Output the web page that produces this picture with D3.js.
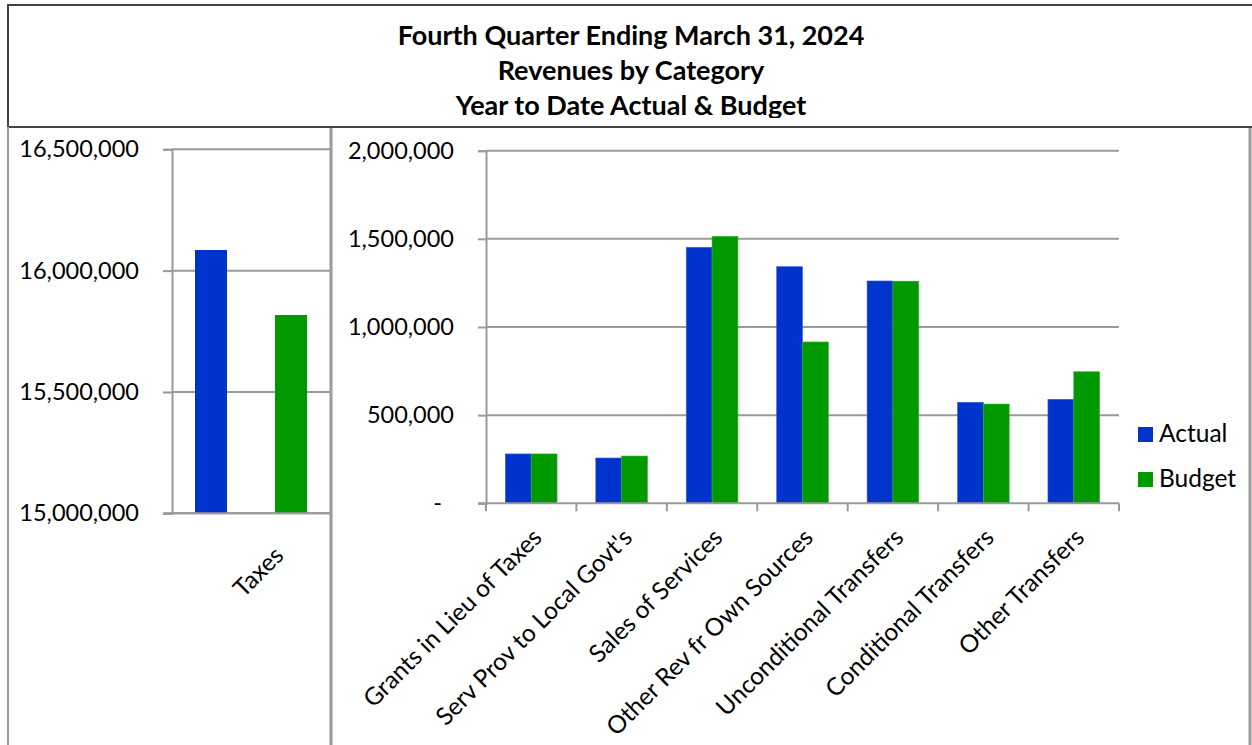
<!DOCTYPE html>
<html>
<head>
<meta charset="utf-8">
<script src="https://cdn.jsdelivr.net/npm/d3@7"></script>
<style>
  html, body { margin: 0; padding: 0; background: #fff; }
  svg { display: block; }
  text { font-family: Lato, "Open Sans", sans-serif; fill: #000; }
</style>
</head>
<body>
<svg id="chart" width="1252" height="745"></svg>
<script>
// Revenue categories shown in the right-hand panel
const categories = [
  "Grants in Lieu of Taxes",
  "Serv Prov to Local Govt's",
  "Sales of Services",
  "Other Rev fr Own Sources",
  "Unconditional Transfers",
  "Conditional Transfers",
  "Other Transfers"
];
const actual = [280000, 257000, 1452000, 1342000, 1261000, 573000, 590000];
const budget = [280000, 268000, 1514000, 915000, 1260000, 563000, 746000];

// Taxes get their own panel because of their scale
const taxCategory = ["Taxes"];
const taxActual = [16085000];
const taxBudget = [15817000];

const seriesNames = ["Actual", "Budget"];
const rightTicks = [0, 500000, 1000000, 1500000, 2000000];
const leftTicks = [15000000, 15500000, 16000000, 16500000];
const titleLines = [
  "Fourth Quarter Ending March 31, 2024",
  "Revenues by Category",
  "Year to Date Actual & Budget"
];

const colors = { Actual: "#0033CC", Budget: "#009900" };
const gridColor = "#9a9a9a";
const fmt = d3.format(",");
const tickFont = 23.5;
const catFont = 24.4;

const svg = d3.select("#chart");

// ---------- Title block ----------
svg.append("clipPath").attr("id", "titleClip")
  .append("rect").attr("x", 8).attr("y", 5).attr("width", 1244).attr("height", 113);
const titleG = svg.append("g").attr("clip-path", "url(#titleClip)");
titleG.selectAll("text").data(titleLines).join("text")
  .attr("x", 631)
  .attr("y", (d, i) => 45 + i * 35)
  .attr("text-anchor", "middle")
  .attr("font-weight", "bold")
  .attr("font-size", 27)
  .text(d => d);

// frame
svg.append("path")
  .attr("d", "M1256,5 H8 V127 H1256")
  .attr("fill", "none").attr("stroke", "#444").attr("stroke-width", 2);
svg.append("line").attr("x1", 8).attr("x2", 8).attr("y1", 127).attr("y2", 745)
  .attr("stroke", gridColor).attr("stroke-width", 2);
svg.append("line").attr("x1", 1250).attr("x2", 1250).attr("y1", 128).attr("y2", 745)
  .attr("stroke", gridColor).attr("stroke-width", 3);
svg.append("line").attr("x1", 331).attr("x2", 331).attr("y1", 128).attr("y2", 745)
  .attr("stroke", gridColor).attr("stroke-width", 3);

// ---------- Left panel (Taxes) ----------
const xL = d3.scaleBand().domain(taxCategory).range([172, 330]);
const xLInner = d3.scaleBand().domain(seriesNames).range([0, xL.bandwidth()])
  .paddingInner(0.6).paddingOuter(0.2875);
const yL = d3.scaleLinear().domain([15000000, 16500000]).range([513.3, 149.3]);

const leftG = svg.append("g");
leftG.selectAll("line.grid").data(leftTicks).join("line")
  .attr("class", "grid")
  .attr("x1", 172).attr("x2", 330)
  .attr("y1", d => yL(d)).attr("y2", d => yL(d))
  .attr("stroke", gridColor).attr("stroke-width", 2);

const leftAxis = leftG.append("g").attr("transform", "translate(172,0)")
  .call(d3.axisLeft(yL).tickValues(leftTicks).tickSize(9).tickPadding(24).tickFormat(fmt));
leftAxis.select(".domain").attr("stroke", gridColor).attr("stroke-width", 2);
leftAxis.selectAll(".tick line").attr("stroke", gridColor).attr("stroke-width", 2);
leftAxis.selectAll(".tick text").attr("font-size", tickFont).attr("font-family", "Lato");

const taxRows = taxCategory.map((c, i) => [
  { cat: c, key: "Actual", value: taxActual[i] },
  { cat: c, key: "Budget", value: taxBudget[i] }
]).flat();
leftG.selectAll("rect.bar").data(taxRows).join("rect")
  .attr("class", "bar")
  .attr("x", d => xL(d.cat) + xLInner(d.key))
  .attr("width", xLInner.bandwidth())
  .attr("y", d => yL(d.value))
  .attr("height", d => yL.range()[0] - yL(d.value))
  .attr("fill", d => colors[d.key]);

leftG.append("line").attr("x1", 163).attr("x2", 330)
  .attr("y1", yL.range()[0]).attr("y2", yL.range()[0])
  .attr("stroke", gridColor).attr("stroke-width", 2);

leftG.selectAll("text.cat").data(taxCategory).join("text")
  .attr("class", "cat")
  .attr("font-size", catFont)
  .attr("text-anchor", "end")
  .attr("transform", d => `translate(${xL(d) + xL.bandwidth() / 2 + 34},557) rotate(-45)`)
  .text(d => d);

// ---------- Right panel ----------
const xR = d3.scaleBand().domain(categories).range([486, 1119]);
const xRInner = d3.scaleBand().domain(seriesNames).range([0, xR.bandwidth()])
  .paddingInner(0).paddingOuter(0.75);
const yR = d3.scaleLinear().domain([0, 2000000]).range([503.3, 150.7]);

const rightG = svg.append("g");
rightG.selectAll("line.grid").data(rightTicks.filter(d => d > 0)).join("line")
  .attr("class", "grid")
  .attr("x1", 486).attr("x2", 1119)
  .attr("y1", d => yR(d)).attr("y2", d => yR(d))
  .attr("stroke", gridColor).attr("stroke-width", 2);

const rightAxis = rightG.append("g").attr("transform", "translate(486,0)")
  .call(d3.axisLeft(yR).tickValues(rightTicks).tickSize(8).tickPadding(24)
    .tickFormat(d => d === 0 ? "-" : fmt(d)));
rightAxis.select(".domain").attr("stroke", gridColor).attr("stroke-width", 2);
rightAxis.selectAll(".tick line").attr("stroke", gridColor).attr("stroke-width", 2);
rightAxis.selectAll(".tick text").attr("font-size", tickFont).attr("font-family", "Lato")
  .attr("dx", d => d === 0 ? -12 : 0);

const rows = categories.map((c, i) => [
  { cat: c, key: "Actual", value: actual[i] },
  { cat: c, key: "Budget", value: budget[i] }
]).flat();
rightG.selectAll("rect.bar").data(rows).join("rect")
  .attr("class", "bar")
  .attr("x", d => xR(d.cat) + xRInner(d.key))
  .attr("width", xRInner.bandwidth())
  .attr("y", d => yR(d.value))
  .attr("height", d => yR(0) - yR(d.value))
  .attr("fill", d => colors[d.key])
  .attr("stroke", d => d.key === "Actual" ? "#3a5fe0" : "#33b033")
  .attr("stroke-width", 0.6);

// category axis with ticks at band boundaries
const bounds = categories.map(c => xR(c)).concat([xR.range()[1]]);
rightG.append("line").attr("x1", 478).attr("x2", 1119)
  .attr("y1", yR(0)).attr("y2", yR(0))
  .attr("stroke", gridColor).attr("stroke-width", 2);
rightG.selectAll("line.xtick").data(bounds).join("line")
  .attr("class", "xtick")
  .attr("x1", d => d).attr("x2", d => d)
  .attr("y1", yR(0)).attr("y2", yR(0) + 8)
  .attr("stroke", gridColor).attr("stroke-width", 2);

rightG.selectAll("text.cat").data(categories).join("text")
  .attr("class", "cat")
  .attr("font-size", catFont)
  .attr("text-anchor", "end")
  .attr("transform", d => `translate(${xR(d) + xR.bandwidth() / 2 + 12},539) rotate(-45)`)
  .text(d => d);

// ---------- Legend ----------
const legend = svg.append("g").attr("transform", "translate(1138,427)");
const items = legend.selectAll("g").data(seriesNames).join("g")
  .attr("transform", (d, i) => `translate(0,${i * 45})`);
items.append("rect").attr("width", 15).attr("height", 15).attr("fill", d => colors[d]);
items.append("text").attr("x", 21).attr("y", 15).attr("font-size", 24.5).text(d => d);
</script>
</body>
</html>
